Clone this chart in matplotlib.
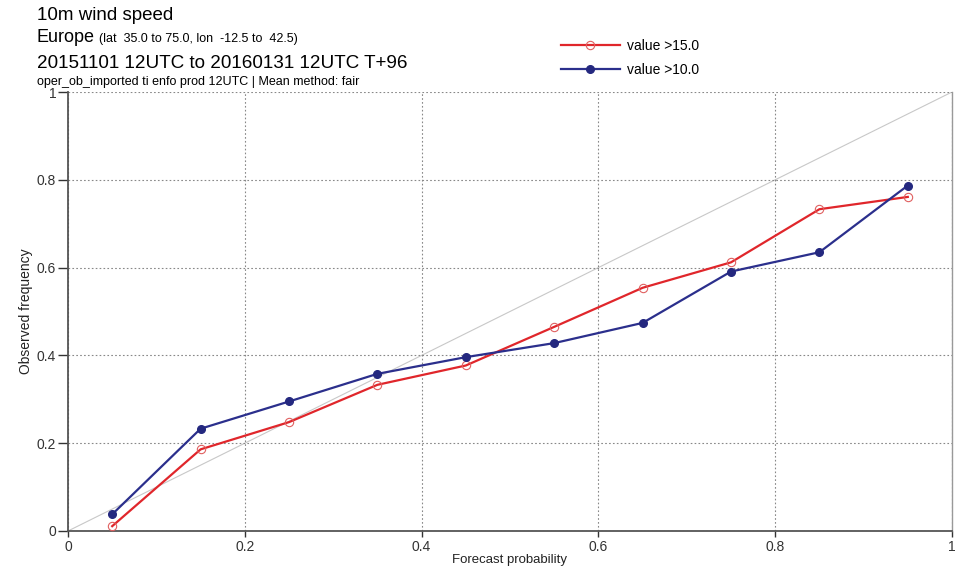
import matplotlib
matplotlib.use('Agg')
import matplotlib.pyplot as plt

plt.rcParams['font.family'] = ['Liberation Sans', 'DejaVu Sans']

# forecast probability bins
prob = [0.05, 0.15, 0.25, 0.35, 0.45, 0.55, 0.65, 0.75, 0.85, 0.95]
# observed frequency for each threshold
obs_gt15 = [0.011, 0.186, 0.248, 0.333, 0.377, 0.465, 0.554, 0.612, 0.733, 0.761]
obs_gt10 = [0.038, 0.233, 0.295, 0.358, 0.396, 0.428, 0.474, 0.591, 0.635, 0.787]
ticks = [0, 0.2, 0.4, 0.6, 0.8, 1]
tick_labels = ['0', '0.2', '0.4', '0.6', '0.8', '1']

fig = plt.figure(figsize=(9.66, 5.7), dpi=100)
ax = fig.add_axes([68/966, 39/570, 884/966, 439/570])

# perfect reliability diagonal
ax.plot([0, 1], [0, 1], color='#c8c8c8', lw=0.8, zorder=1)

l1, = ax.plot(prob, obs_gt15, color='#e0262b', lw=1.6, marker='o', ms=6,
              mfc='none', mec='#e06060', mew=0.8, zorder=3)
l2, = ax.plot(prob, obs_gt10, color='#2b2f8c', lw=1.6, marker='o', ms=5.5,
              mfc='#24287f', mec='#24287f', zorder=3)

ax.set_xlim(0, 1)
ax.set_ylim(0, 1)
ax.set_xticks(ticks)
ax.set_xticklabels(tick_labels)
ax.set_yticks(ticks)
ax.set_yticklabels(tick_labels)
ax.tick_params(labelsize=10, colors='#333333', width=1)
ax.tick_params(axis='x', length=4.5, pad=2)
ax.tick_params(axis='y', length=7.5, pad=1)
ax.grid(True, color='#888888', ls=(0, (1.5, 2)), lw=0.8)

for s in ['left', 'bottom']:
    ax.spines[s].set_color('#555555')
    ax.spines[s].set_linewidth(1.3)
ax.spines['right'].set_color('#999999')
ax.spines['right'].set_linewidth(1.0)
ax.spines['right'].set_linestyle((0, (2, 1)))
ax.spines['top'].set_visible(False)

ax.set_xlabel('Forecast probability', fontsize=9.5, color='#222222', labelpad=0)
ax.set_ylabel('Observed frequency', fontsize=10, color='#222222', labelpad=3)

# titles
fig.text(37/966, 1 - 15/570, '10m wind speed', fontsize=13.5, va='center')
fig.text(37/966, 1 - 38/570, 'Europe', fontsize=13, va='center')
fig.text(99/966, 1 - 39/570, '(lat  35.0 to 75.0, lon  -12.5 to  42.5)', fontsize=9, va='center')
fig.text(37/966, 1 - 63/570, '20151101 12UTC to 20160131 12UTC T+96', fontsize=13.6, va='center')
fig.text(37/966, 1 - 82/570, 'oper_ob_imported ti enfo prod 12UTC | Mean method: fair', fontsize=9, va='center')

fig.legend([l1, l2], ['value >15.0', 'value >10.0'], loc='upper left',
           bbox_to_anchor=(548/966, 1 - 26/570), frameon=False, fontsize=10,
           handlelength=4.3, labelspacing=0.75, handletextpad=0.5)

fig.savefig('out.png', dpi=100)
